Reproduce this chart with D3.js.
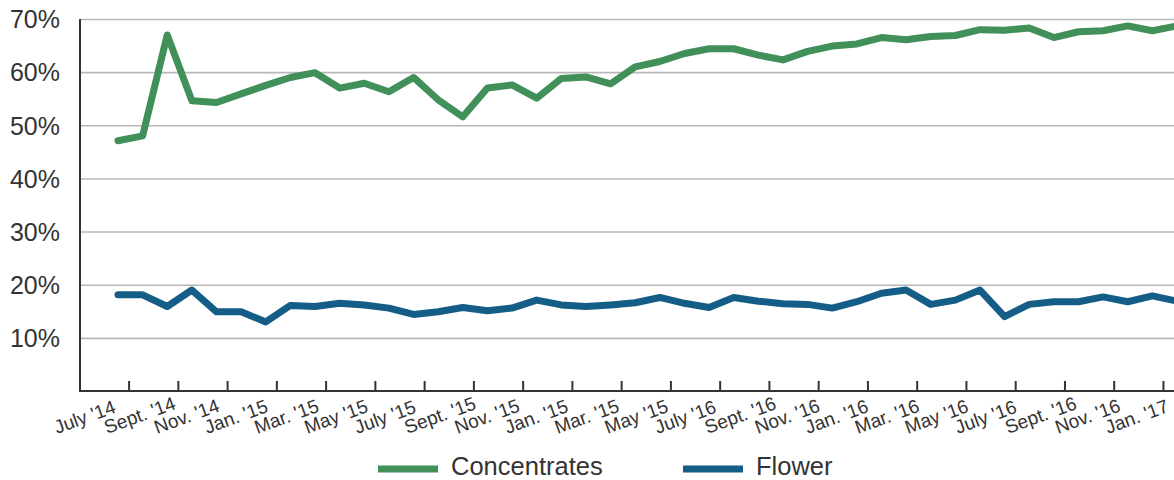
<!DOCTYPE html>
<html>
<head>
<meta charset="utf-8">
<script src="https://cdn.jsdelivr.net/npm/d3@7"></script>
<style>
  html, body { margin: 0; padding: 0; background: #fff; }
  svg { display: block; }
  text { font-family: "Liberation Sans", Arial, Helvetica, sans-serif; fill: #333; }
</style>
</head>
<body>
<svg id="chart" width="1174" height="480"></svg>
<script>
// ---- data ----
const months = [
  "Jul 2014","Aug 2014","Sep 2014","Oct 2014","Nov 2014","Dec 2014",
  "Jan 2015","Feb 2015","Mar 2015","Apr 2015","May 2015","Jun 2015",
  "Jul 2015","Aug 2015","Sep 2015","Oct 2015","Nov 2015","Dec 2015",
  "Jan 2016","Feb 2016","Mar 2016","Apr 2016","May 2016","Jun 2016",
  "Jul 2016","Aug 2016","Sep 2016","Oct 2016","Nov 2016","Dec 2016",
  "Jan 2017","Feb 2017","Mar 2017","Apr 2017","May 2017","Jun 2017",
  "Jul 2017","Aug 2017","Sep 2017","Oct 2017","Nov 2017","Dec 2017",
  "Jan 2018","Feb 2018"
];
const concentrates = [
  47.1, 48.0, 67.0, 54.6, 54.3, 55.9, 57.5, 59.0, 59.9, 57.0,
  57.9, 56.3, 59.0, 54.8, 51.6, 57.0, 57.6, 55.1, 58.8, 59.1,
  57.8, 61.0, 62.0, 63.5, 64.4, 64.4, 63.2, 62.3, 63.9, 64.9,
  65.3, 66.5, 66.1, 66.7, 66.9, 68.0, 67.9, 68.3, 66.5, 67.6,
  67.8, 68.7, 67.8, 68.7
];
const flower = [
  18.1, 18.1, 15.9, 19.0, 14.9, 14.9, 13.0, 16.1, 15.9, 16.5,
  16.2, 15.6, 14.4, 14.9, 15.7, 15.1, 15.6, 17.1, 16.2, 15.9,
  16.2, 16.6, 17.6, 16.5, 15.7, 17.6, 16.9, 16.4, 16.3, 15.6,
  16.8, 18.4, 19.0, 16.3, 17.1, 19.0, 14.0, 16.3, 16.8, 16.8,
  17.7, 16.8, 17.9, 16.9
];
// tick labels as printed on the original chart (one every two months)
const xTickLabels = [
  "July '14","Sept. '14","Nov. '14","Jan. '15","Mar. '15","May '15",
  "July '15","Sept. '15","Nov. '15","Jan. '15","Mar. '15","May '15",
  "July '16","Sept. '16","Nov. '16","Jan. '16","Mar. '16","May '16",
  "July '16","Sept. '16","Nov. '16","Jan. '17"
];
const yTicks = [10, 20, 30, 40, 50, 60, 70];
const seriesNames = ["Concentrates", "Flower"];
const seriesColors = ["#41905a", "#145d86"];

// ---- layout ----
const svg = d3.select("#chart");
const plotLeft = 80, plotRight = 1174, plotTop = 19, plotBottom = 391;

const x = d3.scaleLinear()
  .domain([0, months.length - 1])
  .range([118, 1177]);
const y = d3.scaleLinear().domain([0, 70]).range([plotBottom, plotTop]);

// gridlines + y labels
const yAxis = d3.axisLeft(y)
  .tickValues(yTicks)
  .tickSize(-(plotRight - plotLeft))
  .tickPadding(20)
  .tickFormat(d => d + "%");
const gy = svg.append("g").attr("transform", `translate(${plotLeft},0)`).call(yAxis);
gy.select(".domain").remove();
gy.selectAll(".tick line").attr("stroke", "#b8b8b8").attr("stroke-width", 1.6);
gy.selectAll(".tick text")
  .attr("font-size", 25)
  .attr("fill", "#333")
  .attr("dy", "0.35em")
  .style("font-family", '"Liberation Sans", Arial, sans-serif');

// x axis: ticks between categories, every 2 categories
const tickPositions = d3.range(0, months.length, 2).map(i => i + 0.43);
const xAxis = d3.axisBottom(x)
  .tickValues(tickPositions)
  .tickSize(-10)
  .tickFormat("");
const gx = svg.append("g").attr("transform", `translate(0,${plotBottom})`).call(xAxis);
gx.select(".domain").remove();
gx.selectAll(".tick line").attr("stroke", "#333").attr("stroke-width", 2);

// axis lines
svg.append("line")
  .attr("x1", plotLeft).attr("x2", plotRight)
  .attr("y1", plotBottom).attr("y2", plotBottom)
  .attr("stroke", "#333").attr("stroke-width", 2);
svg.append("line")
  .attr("x1", plotLeft).attr("x2", plotLeft)
  .attr("y1", plotTop).attr("y2", plotBottom + 1)
  .attr("stroke", "#333").attr("stroke-width", 2);

// x labels (rotated, anchored at their start)
const labelScale = d3.scaleLinear()
  .domain([0, xTickLabels.length - 1])
  .range([57, 1108]);
svg.append("g").selectAll("text")
  .data(xTickLabels)
  .join("text")
  .attr("transform", (d, k) => `translate(${labelScale(k)},${plotBottom + 43}) rotate(-20)`)
  .attr("text-anchor", "start")
  .attr("font-size", 19)
  .text(d => d);

// lines
const line = d3.line().x((d, i) => x(i)).y(d => y(d));
[concentrates, flower].forEach((vals, k) => {
  svg.append("path")
    .datum(vals)
    .attr("d", line)
    .attr("fill", "none")
    .attr("stroke", seriesColors[k])
    .attr("stroke-width", 7)
    .attr("stroke-linejoin", "round")
    .attr("stroke-linecap", "round");
});

// legend
const legendItems = [
  { name: seriesNames[0], color: seriesColors[0], x: 378 },
  { name: seriesNames[1], color: seriesColors[1], x: 683 }
];
const lg = svg.append("g");
legendItems.forEach(it => {
  lg.append("line")
    .attr("x1", it.x).attr("x2", it.x + 60)
    .attr("y1", 469).attr("y2", 469)
    .attr("stroke", it.color).attr("stroke-width", 7);
  lg.append("text")
    .attr("x", it.x + 73).attr("y", 474.5)
    .attr("font-size", 25.5)
    .text(it.name);
});
</script>
</body>
</html>
